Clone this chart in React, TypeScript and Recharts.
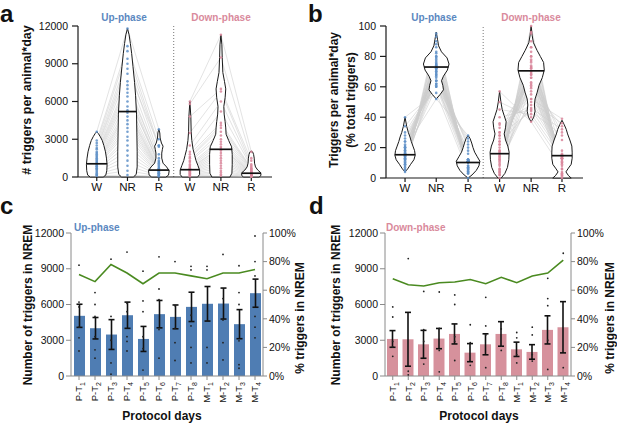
import React from 'react'
import {
  ComposedChart, Bar, Line, Scatter, XAxis, YAxis, ErrorBar, ReferenceLine,
} from 'recharts'

const FONT = '"Liberation Sans", Arial, Helvetica, sans-serif'
const UP = '#5b88bf'
const DOWN = '#d98a9c'
const UP_BAR = '#4f7db3'
const DOWN_BAR = '#d6919c'
const UP_DOT = '#5f91c8'
const DOWN_DOT = '#d9869b'
const GREEN = '#4a8a20'

// ---- violin panels (a, b) ----
const stageLabels = ['W', 'NR', 'R', 'W', 'NR', 'R']
const stagePos = [0.58, 1.53, 2.5, 3.46, 4.42, 5.36]
const phaseSplit = 2.96

// panel a: triggers per animal*day, rows = [W, NR, R]
const countTicks = [0, 3000, 6000, 9000, 12000]
const countUp = [
  [3600, 11800, 3800], [2900, 10400, 3000], [2700, 10000, 2500], [2500, 9400, 2400],
  [2300, 9000, 1800], [2200, 8600, 2500], [2000, 8200, 1500], [1900, 7600, 1200],
  [1800, 7300, 1300], [1700, 7000, 1000], [1600, 6700, 900], [1500, 6400, 1100],
  [1400, 6000, 800], [1300, 5600, 700], [1200, 5300, 650], [1100, 5100, 600],
  [1050, 4800, 550], [1000, 4500, 500], [900, 4200, 500], [850, 3900, 450],
  [800, 3600, 400], [700, 3200, 350], [650, 2900, 300], [600, 2500, 300],
  [500, 2100, 250], [400, 1700, 200], [300, 1300, 150], [200, 900, 100],
  [150, 500, 80], [100, 150, 50],
]
const countDown = [
  [6000, 11300, 2000], [5800, 9500, 1500], [4800, 7000, 1300], [3500, 6800, 1000],
  [2500, 6000, 900], [2000, 5200, 800], [1800, 4300, 700], [1600, 4100, 650],
  [1500, 3900, 600], [1300, 3600, 550], [1200, 3300, 500], [1000, 3000, 450],
  [900, 2800, 400], [800, 2600, 350], [700, 2400, 320], [650, 2300, 300],
  [600, 2100, 280], [550, 1900, 250], [500, 1700, 220], [450, 1500, 200],
  [400, 1300, 180], [350, 1100, 150], [300, 900, 120], [250, 700, 100],
  [200, 500, 80], [150, 350, 60], [100, 200, 40], [50, 100, 20],
]
// violin outlines: [value, half width]
const countViolins = [
  [[0, 0.2], [150, 0.28], [500, 0.31], [1000, 0.32], [1500, 0.3], [2000, 0.27], [2500, 0.22], [2900, 0.17], [3200, 0.11], [3450, 0.05], [3600, 0]],
  [[0, 0.18], [200, 0.27], [800, 0.3], [2000, 0.3], [3500, 0.29], [5000, 0.28], [6500, 0.25], [7500, 0.22], [8800, 0.17], [9800, 0.13], [10600, 0.09], [11300, 0.05], [11800, 0]],
  [[0, 0.22], [150, 0.3], [500, 0.32], [800, 0.24], [1100, 0.13], [1500, 0.09], [1900, 0.09], [2200, 0.11], [2450, 0.13], [2700, 0.08], [3100, 0.04], [3500, 0.03], [3800, 0]],
  [[0, 0.24], [200, 0.3], [550, 0.3], [900, 0.25], [1300, 0.19], [1700, 0.15], [2200, 0.1], [2900, 0.06], [3600, 0.04], [4800, 0.03], [6000, 0]],
  [[0, 0.28], [300, 0.34], [1000, 0.35], [1800, 0.35], [2400, 0.33], [2900, 0.24], [3400, 0.16], [3900, 0.15], [4400, 0.13], [5000, 0.1], [5600, 0.09], [6300, 0.13], [7000, 0.15], [7600, 0.11], [8300, 0.06], [9500, 0.04], [10500, 0.03], [11300, 0]],
  [[0, 0.25], [150, 0.3], [350, 0.29], [550, 0.2], [800, 0.13], [1100, 0.1], [1500, 0.09], [1800, 0.07], [2000, 0.04], [2050, 0]],
]
const countMedians = [1050, 5200, 550, 580, 2200, 300]
const countMedianHalf = [0.32, 0.28, 0.32, 0.3, 0.35, 0.3]

// panel b: % of total triggers, rows = [W, NR, R]
const pctTicks = [0, 20, 40, 60, 80, 100]
const pctUp = [
  [4, 93, 3], [6, 90, 4], [7, 86, 7], [9, 83, 8], [10, 80, 10], [11, 79, 10],
  [12, 77, 11], [13, 76, 11], [14, 75, 11], [14, 74, 12], [15, 74, 11], [15, 73, 12],
  [16, 72, 12], [16, 73, 11], [17, 72, 11], [18, 71, 11], [19, 70, 11], [20, 69, 11],
  [21, 67, 12], [22, 66, 12], [24, 64, 12], [26, 62, 12], [28, 61, 11], [30, 62, 8],
  [34, 60, 6], [40, 56, 4], [20, 52, 28], [14, 60, 26], [12, 64, 24], [10, 68, 22],
  [8, 72, 20], [13, 80, 7], [9, 88, 3], [5, 95, 0], [18, 78, 4], [20, 75, 5],
  [12, 82, 6], [24, 70, 6], [16, 68, 16], [18, 64, 18],
]
const pctDown = [
  [0, 100, 0], [2, 95, 3], [4, 90, 6], [6, 86, 8], [8, 83, 9], [10, 80, 10],
  [11, 78, 11], [12, 76, 12], [13, 74, 13], [14, 73, 13], [15, 72, 13], [16, 70, 14],
  [17, 69, 14], [18, 68, 14], [20, 66, 14], [22, 63, 15], [24, 61, 15], [26, 59, 15],
  [28, 57, 15], [30, 55, 15], [33, 52, 15], [36, 48, 16], [40, 45, 15], [45, 42, 13],
  [50, 40, 10], [57, 37, 6], [28, 44, 28], [22, 46, 32], [14, 50, 36], [9, 52, 39],
  [6, 60, 34], [4, 66, 30], [2, 73, 25], [5, 77, 18], [24, 72, 4], [30, 68, 2],
  [18, 80, 2], [12, 86, 2], [3, 96, 1], [35, 62, 3],
]
const pctViolins = [
  [[4, 0], [6, 0.08], [9, 0.17], [12, 0.27], [15, 0.31], [18, 0.29], [21, 0.24], [24, 0.19], [27, 0.15], [30, 0.1], [34, 0.05], [40, 0]],
  [[52, 0], [55, 0.12], [58, 0.22], [61, 0.2], [64, 0.16], [67, 0.22], [71, 0.34], [75, 0.39], [79, 0.33], [83, 0.16], [87, 0.07], [91, 0.04], [96, 0]],
  [[0, 0], [2, 0.12], [5, 0.25], [8, 0.33], [11, 0.36], [14, 0.28], [17, 0.2], [20, 0.15], [23, 0.11], [26, 0.06], [28, 0]],
  [[0, 0.05], [3, 0.16], [7, 0.24], [12, 0.28], [17, 0.29], [21, 0.25], [25, 0.18], [29, 0.14], [33, 0.18], [37, 0.2], [41, 0.14], [45, 0.08], [50, 0.04], [57, 0]],
  [[37, 0], [40, 0.08], [44, 0.12], [48, 0.1], [52, 0.12], [56, 0.18], [61, 0.24], [66, 0.34], [71, 0.4], [76, 0.38], [80, 0.28], [84, 0.18], [89, 0.07], [94, 0.03], [100, 0]],
  [[0, 0.28], [1.5, 0.2], [4, 0.12], [6, 0.18], [9, 0.28], [13, 0.31], [17, 0.31], [21, 0.3], [25, 0.24], [29, 0.17], [32, 0.13], [35, 0.07], [38, 0]],
]
const pctMedians = [15.3, 73, 10.2, 16, 70.5, 14.7]
const pctMedianHalf = [0.31, 0.37, 0.36, 0.29, 0.4, 0.31]

// ---- bar panels (c, d) ----
const days = ['P-T1', 'P-T2', 'P-T3', 'P-T4', 'P-T5', 'P-T6', 'P-T7', 'P-T8', 'M-T1', 'M-T2', 'M-T3', 'M-T4']
const shareTicks = [0, 20, 40, 60, 80, 100]

const upMean = [5050, 4010, 3480, 5100, 3110, 5190, 4960, 5800, 6060, 6080, 4350, 6950]
const upErr = [970, 900, 1250, 1100, 1050, 1150, 1000, 1230, 1450, 1300, 1220, 1180]
const upShare = [71, 66, 78, 72, 64.5, 72, 72, 70, 68, 72, 72, 74.5]
const upDots = [
  [9300, 6200, 5800, 4100, 3200, 2100],
  [7000, 6000, 5000, 3300, 2200, 1500],
  [9800, 5000, 3000, 1100, 150],
  [10400, 6100, 5400, 3300, 2900, 2100],
  [8800, 6300, 5400, 3300, 2300, 500],
  [10000, 7300, 6400, 3900, 1500],
  [9600, 5900, 4000, 2800, 1300],
  [9200, 8900, 5100, 4200, 2400, 1100],
  [9200, 8900, 4600, 2400, 1100],
  [10200, 6500, 4700, 2800, 1350],
  [9250, 7000, 6000, 2950, 950, 650],
  [11750, 9600, 8400, 5000, 4100, 3200],
]

const downMean = [3110, 3080, 2660, 3140, 3530, 1960, 2660, 3530, 2240, 2020, 3870, 4090]
const downErr = [700, 2260, 1170, 850, 840, 760, 880, 1030, 600, 610, 1180, 2150]
const downShare = [68, 63.8, 62.9, 65.2, 65.7, 67.5, 64.5, 69, 65.2, 70, 72, 81]
const downDots = [
  [5800, 4950, 2900, 2450, 1650],
  [9850, 400, 100],
  [7100, 3900, 2900, 1000],
  [7050, 4000, 2150, 350],
  [6800, 6000, 3300, 2900, 1300],
  [4300, 2800, 900],
  [6600, 4200, 3450, 700],
  [3950, 2500, 2150],
  [3650, 3200, 1800, 1100],
  [4100, 3450, 1800, 1250],
  [8200, 6500, 5900, 3000, 550],
  [10300, 700],
]

const NoShape = () => null

function outline(shape: number[][], center: number) {
  const right = shape.map(([v, w]) => ({ x: center + w, y: v }))
  const left = [...shape].reverse().map(([v, w]) => ({ x: center - w, y: v }))
  return [...right, ...left]
}

const dotShape = (color: string) => (p: any) => (
  <circle cx={p.cx} cy={p.cy} r={1.3} fill={color} fillOpacity={0.85} />
)

interface ViolinProps {
  up: number[][]
  down: number[][]
  violins: number[][][]
  medians: number[]
  medianHalf: number[]
  max: number
  ticks: number[]
  right: number
  bottom: number
}

function ViolinPanel({ up, down, violins, medians, medianHalf, max, ticks, right, bottom }: ViolinProps) {
  const axisStyle = { fontSize: 10.5, fill: '#111', fontFamily: FONT }
  const trail = (rows: number[][], offset: number, tag: string) =>
    rows.map((r, i) => (
      <Scatter
        key={`${tag}-${i}`}
        data={r.map((v, k) => ({ x: stagePos[offset + k], y: v }))}
        line={{ stroke: '#cdcdcd', strokeWidth: 0.7, strokeOpacity: 0.8 }}
        lineJointType="linear"
        shape={NoShape}
        isAnimationActive={false}
      />
    ))
  const dots = (rows: number[][], offset: number, color: string, tag: string) =>
    [0, 1, 2].map(k => (
      <Scatter
        key={`${tag}-dot-${k}`}
        data={rows.map(r => ({ x: stagePos[offset + k], y: r[k] }))}
        shape={dotShape(color)}
        isAnimationActive={false}
      />
    ))
  return (
    <ComposedChart width={300} height={205} margin={{ top: 26, right, bottom, left: 38 }}>
      <XAxis
        type="number" dataKey="x" domain={[0, 6]} ticks={stagePos}
        tickFormatter={v => stageLabels[stagePos.indexOf(v)]}
        height={20} stroke="#1a1a1a" strokeWidth={1.2} tickSize={4}
        tick={{ fontSize: 11.5, fill: '#111', fontFamily: FONT }}
      />
      <YAxis
        type="number" dataKey="y" domain={[0, max]} ticks={ticks} width={40}
        stroke="#1a1a1a" strokeWidth={1.2} tickSize={6} tickMargin={4} tick={axisStyle}
      />
      <ReferenceLine x={phaseSplit} stroke="#777" strokeDasharray="1 2" />
      {trail(up, 0, 'up')}
      {trail(down, 3, 'down')}
      {violins.map((v, i) => (
        <Scatter
          key={`violin-${i}`}
          data={outline(v, stagePos[i])}
          line={{ stroke: '#1a1a1a', strokeWidth: 1, fill: '#fff' }}
          lineJointType="linearClosed"
          shape={NoShape}
          isAnimationActive={false}
        />
      ))}
      {dots(up, 0, UP_DOT, 'up')}
      {dots(down, 3, DOWN_DOT, 'down')}
      {medians.map((m, i) => (
        <Scatter
          key={`median-${i}`}
          data={[{ x: stagePos[i] - medianHalf[i], y: m }, { x: stagePos[i] + medianHalf[i], y: m }]}
          line={{ stroke: '#111', strokeWidth: 1.7 }}
          lineJointType="linear"
          shape={NoShape}
          isAnimationActive={false}
        />
      ))}
    </ComposedChart>
  )
}

function DayTick({ x, y, payload }: any) {
  const s = String(payload.value)
  return (
    <text
      x={x} y={y} transform={`rotate(-90, ${x}, ${y})`} textAnchor="end" dy="0.35em"
      fontSize={9.5} fill="#111" fontFamily={FONT}
    >
      {s.slice(0, -1)}
      <tspan dy={3} fontSize={7}>{s.slice(-1)}</tspan>
    </text>
  )
}

interface BarProps {
  mean: number[]
  err: number[]
  share: number[]
  dots: number[][]
  color: string
  left: number
}

function BarPanel({ mean, err, share, dots, color, left }: BarProps) {
  const rows = days.map((d, i) => {
    const row: Record<string, any> = { day: d, mean: mean[i], err: err[i], share: share[i] }
    dots[i].forEach((v, k) => { row[`d${k}`] = v })
    return row
  })
  const dotKeys = Array.from({ length: Math.max(...dots.map(d => d.length)) }, (_, k) => `d${k}`)
  const tick = { fontSize: 10.5, fill: '#111', fontFamily: FONT }
  return (
    <ComposedChart width={310} height={224} data={rows} margin={{ top: 33, right: 7, bottom: 18, left }}>
      <XAxis dataKey="day" interval={0} height={30} stroke="#8a8a8a" tickSize={4} tick={(p: any) => <DayTick {...p} />} />
      <YAxis yAxisId="n" domain={[0, 12000]} ticks={countTicks} width={40} stroke="#8a8a8a" tickSize={5} tickMargin={2} tick={tick} />
      <YAxis
        yAxisId="pct" orientation="right" domain={[0, 100]} ticks={shareTicks} width={40}
        tickFormatter={v => `${v}%`} stroke="#8a8a8a" tickSize={4} tickMargin={2} tick={tick}
      />
      <Bar yAxisId="n" dataKey="mean" fill={color} barSize={11} isAnimationActive={false}>
        <ErrorBar dataKey="err" width={3} strokeWidth={1.6} stroke="#111" direction="y" />
      </Bar>
      {dotKeys.map(k => (
        <Line
          key={k} yAxisId="n" dataKey={k} stroke="none" activeDot={false}
          dot={{ r: 0.9, fill: '#222', stroke: 'none' }} isAnimationActive={false}
        />
      ))}
      <Line yAxisId="pct" dataKey="share" stroke={GREEN} strokeWidth={1.6} dot={false} isAnimationActive={false} />
    </ComposedChart>
  )
}

function Label({ x, y, text, size = 12, color = '#111', rotate = false, anchor = 'middle' }: any) {
  return (
    <text
      x={x} y={y} fontSize={size} fontWeight="bold" fill={color} fontFamily={FONT}
      textAnchor={anchor} transform={rotate ? `rotate(-90, ${x}, ${y})` : undefined}
    >
      {text}
    </text>
  )
}

export default function App() {
  return (
    <div style={{ position: 'absolute', left: 0, top: 0, width: 617, height: 424, background: '#fff', overflow: 'hidden' }}>
      <div style={{ position: 'absolute', left: 0, top: 0 }}>
        <ViolinPanel up={countUp} down={countDown} violins={countViolins} medians={countMedians}
          medianHalf={countMedianHalf} max={12000} ticks={countTicks} right={28} bottom={8} />
      </div>
      <div style={{ position: 'absolute', left: 308, top: 0 }}>
        <ViolinPanel up={pctUp} down={pctDown} violins={pctViolins} medians={pctMedians}
          medianHalf={pctMedianHalf} max={100} ticks={pctTicks} right={25} bottom={7} />
      </div>
      <div style={{ position: 'absolute', left: 0, top: 200 }}>
        <BarPanel mean={upMean} err={upErr} share={upShare} dots={upDots} color={UP_BAR} left={31} />
      </div>
      <div style={{ position: 'absolute', left: 308, top: 200 }}>
        <BarPanel mean={downMean} err={downErr} share={downShare} dots={downDots} color={DOWN_BAR} left={37} />
      </div>
      <svg width={617} height={424} style={{ position: 'absolute', left: 0, top: 0, pointerEvents: 'none' }}>
        <Label x={0} y={22} text="a" size={24} anchor="start" />
        <Label x={308} y={22} text="b" size={24} anchor="start" />
        <Label x={0} y={214} text="c" size={24} anchor="start" />
        <Label x={309} y={214} text="d" size={24} anchor="start" />

        <Label x={124} y={21} text="Up-phase" size={10} color={UP} />
        <Label x={221} y={21} text="Down-phase" size={10} color={DOWN} />
        <Label x={434} y={21} text="Up-phase" size={10} color={UP} />
        <Label x={531} y={21} text="Down-phase" size={10} color={DOWN} />
        <Label x={74} y={231} text="Up-phase" size={10} color={UP} anchor="start" />
        <Label x={386} y={231} text="Down-phase" size={10} color={DOWN} anchor="start" />

        <Label x={31} y={100} text="# triggers per animal*day" size={12.5} rotate />
        <Label x={338} y={100} text="Triggers per animal*day" size={12} rotate />
        <Label x={355} y={100} text="(% total triggers)" size={12} rotate />
        <Label x={32} y={305} text="Number of triggers in NREM" size={12} rotate />
        <Label x={340} y={305} text="Number of triggers in NREM" size={12} rotate />
        <Label x={304} y={318} text="% triggers in NREM" size={12} rotate />
        <Label x={614} y={318} text="% triggers in NREM" size={12} rotate />
        <Label x={162} y={420} text="Protocol days" size={12} />
        <Label x={479} y={420} text="Protocol days" size={12} />
      </svg>
    </div>
  )
}
